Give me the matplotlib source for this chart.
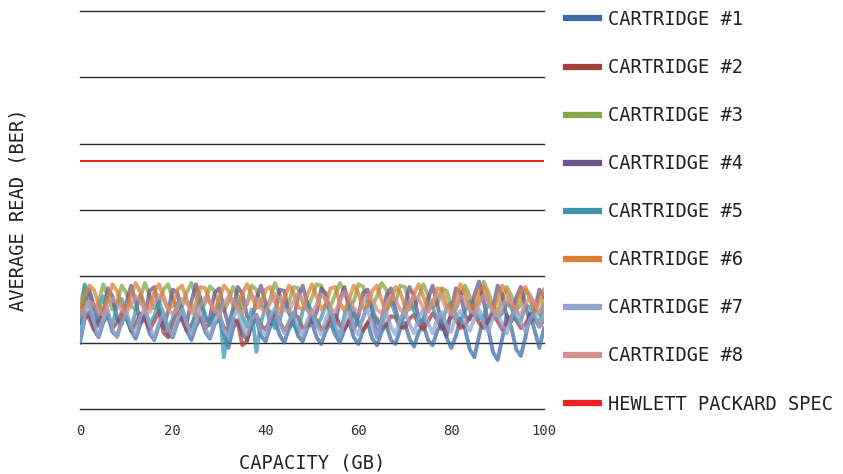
import numpy as np
import matplotlib
matplotlib.use("Agg")
import matplotlib.pyplot as plt

plt.rcParams['font.family'] = ['DejaVu Sans Mono']

# capacity in GB, one reading per GB
capacity = np.arange(0, 101)

cart1 = [1.00, 1.35, 1.46, 1.20, 1.08, 1.30, 1.42, 1.16, 1.10, 1.34,
         1.40, 1.18, 1.06, 1.28, 1.38, 1.14, 1.04, 1.26, 1.36, 1.12,
         1.08, 1.30, 1.40, 1.18, 1.04, 1.24, 1.38, 1.16, 1.06, 1.28,
         1.36, 1.12, 0.92, 1.22, 1.34, 1.14, 1.04, 1.26, 1.36, 1.10,
         1.02, 1.24, 1.34, 1.12, 1.00, 1.20, 1.32, 1.10, 1.02, 1.22,
         1.30, 1.08, 0.98, 1.18, 1.30, 1.12, 1.00, 1.20, 1.32, 1.08,
         0.98, 1.18, 1.30, 1.06, 0.96, 1.16, 1.28, 1.04, 0.98, 1.20,
         1.30, 1.06, 0.94, 1.16, 1.28, 1.04, 0.96, 1.18, 1.30, 1.08,
         0.92, 1.10, 1.36, 1.20, 0.90, 0.78, 1.10, 1.40, 1.20, 0.86,
         0.74, 1.06, 1.42, 1.22, 0.90, 0.80, 1.08, 1.44, 1.18, 0.92,
         1.22]
cart2 = [1.30, 1.45, 1.36, 1.20, 1.34, 1.50, 1.40, 1.22, 1.30, 1.46,
         1.38, 1.18, 1.28, 1.44, 1.36, 1.20, 1.32, 1.48, 1.15, 1.08,
         1.30, 1.46, 1.34, 1.18, 1.26, 1.42, 1.38, 1.22, 1.30, 1.46,
         1.40, 1.24, 1.18, 1.36, 1.30, 0.96, 1.02, 1.30, 1.42, 1.26,
         1.20, 1.34, 1.46, 1.32, 1.18, 1.28, 1.44, 1.38, 1.22, 1.26,
         1.40, 1.34, 1.20, 1.24, 1.38, 1.42, 1.26, 1.20, 1.34, 1.44,
         1.30, 1.18, 1.30, 1.42, 1.36, 1.22, 1.26, 1.40, 1.38, 1.24,
         1.22, 1.36, 1.42, 1.28, 1.20, 1.32, 1.44, 1.34, 1.20, 1.28,
         1.40, 1.36, 1.22, 1.26, 1.38, 1.44, 1.30, 1.22, 1.34, 1.42,
         1.32, 1.20, 1.30, 1.40, 1.34, 1.22, 1.28, 1.42, 1.36, 1.24,
         1.34]
cart3 = [1.55, 1.85, 1.72, 1.52, 1.60, 1.88, 1.70, 1.50, 1.62, 1.86,
         1.75, 1.55, 1.50, 1.68, 1.90, 1.72, 1.52, 1.58, 1.80, 1.88,
         1.65, 1.50, 1.55, 1.75, 1.90, 1.70, 1.52, 1.60, 1.85, 1.78,
         1.55, 1.48, 1.62, 1.84, 1.72, 1.52, 1.58, 1.86, 1.80, 1.58,
         1.50, 1.66, 1.90, 1.74, 1.54, 1.60, 1.84, 1.82, 1.60, 1.52,
         1.68, 1.88, 1.86, 1.62, 1.55, 1.72, 1.90, 1.76, 1.56, 1.62,
         1.88, 1.85, 1.64, 1.55, 1.70, 1.90, 1.80, 1.58, 1.60, 1.86,
         1.84, 1.62, 1.52, 1.70, 1.88, 1.72, 1.54, 1.58, 1.82, 1.78,
         1.56, 1.50, 1.68, 1.86, 1.70, 1.52, 1.62, 1.92, 1.76, 1.55,
         1.48, 1.66, 1.84, 1.70, 1.50, 1.56, 1.80, 1.72, 1.52, 1.42,
         1.66]
cart4 = [1.30, 1.62, 1.80, 1.55, 1.25, 1.45, 1.82, 1.70, 1.35, 1.28,
         1.60, 1.86, 1.62, 1.30, 1.40, 1.78, 1.84, 1.50, 1.22, 1.48,
         1.80, 1.76, 1.42, 1.30, 1.62, 1.88, 1.66, 1.32, 1.38, 1.75,
         1.82, 1.52, 1.26, 1.50, 1.84, 1.74, 1.40, 1.30, 1.66, 1.86,
         1.60, 1.28, 1.42, 1.80, 1.78, 1.45, 1.32, 1.70, 1.86, 1.58,
         1.30, 1.46, 1.82, 1.74, 1.40, 1.28, 1.64, 1.84, 1.55, 1.20,
         1.40, 1.75, 1.80, 1.46, 1.08, 1.35, 1.70, 1.82, 1.50, 1.25,
         1.55, 1.84, 1.70, 1.36, 1.30, 1.66, 1.86, 1.58, 1.28, 1.10,
         1.46, 1.82, 1.76, 1.40, 1.35, 1.72, 1.92, 1.62, 1.30, 1.50,
         1.86, 1.72, 1.38, 1.32, 1.68, 1.84, 1.56, 1.30, 1.48, 1.80,
         1.70]
cart5 = [1.10, 1.88, 1.60, 1.30, 1.50, 1.70, 1.40, 1.25, 1.58, 1.66,
         1.36, 1.20, 1.48, 1.72, 1.50, 1.28, 1.40, 1.62, 1.44, 1.22,
         1.36, 1.60, 1.52, 1.30, 1.18, 1.50, 1.64, 1.42, 1.26, 1.45,
         1.58, 0.78, 1.20, 1.52, 1.62, 1.40, 1.24, 1.50, 0.86, 1.30,
         1.55, 1.46, 1.22, 1.32, 1.60, 1.50, 1.28, 1.16, 1.48, 1.62,
         1.44, 1.24, 1.38, 1.58, 1.46, 1.20, 1.10, 1.42, 1.60, 1.48,
         1.26, 1.36, 1.62, 1.52, 1.30, 1.22, 1.50, 1.64, 1.42, 1.28,
         1.40, 1.60, 1.48, 1.30, 1.36, 1.58, 1.54, 1.34, 1.30, 1.52,
         1.60, 1.42, 1.34, 1.48, 1.62, 1.50, 1.36, 1.42, 1.58, 1.50,
         1.38, 1.44, 1.60, 1.52, 1.34, 1.32, 1.56, 1.54, 1.36, 1.30,
         1.54]
cart6 = [1.50, 1.70, 1.86, 1.80, 1.58, 1.48, 1.66, 1.88, 1.78, 1.55,
         1.50, 1.72, 1.90, 1.76, 1.54, 1.52, 1.76, 1.88, 1.70, 1.50,
         1.56, 1.80, 1.86, 1.64, 1.48, 1.60, 1.84, 1.82, 1.60, 1.48,
         1.66, 1.86, 1.78, 1.56, 1.52, 1.74, 1.88, 1.72, 1.52, 1.56,
         1.80, 1.84, 1.62, 1.46, 1.64, 1.86, 1.76, 1.54, 1.50, 1.72,
         1.88, 1.70, 1.50, 1.58, 1.82, 1.84, 1.60, 1.48, 1.66, 1.86,
         1.74, 1.52, 1.54, 1.78, 1.86, 1.64, 1.46, 1.62, 1.84, 1.76,
         1.56, 1.50, 1.74, 1.88, 1.70, 1.50, 1.58, 1.82, 1.80, 1.58,
         1.48, 1.68, 1.88, 1.74, 1.52, 1.56, 1.80, 1.84, 1.62, 1.50,
         1.64, 1.86, 1.76, 1.54, 1.52, 1.76, 1.84, 1.64, 1.48, 1.62,
         1.80]
cart7 = [1.05, 1.40, 1.62, 1.30, 1.10, 1.36, 1.50, 1.20, 1.08, 1.30,
         1.46, 1.24, 1.12, 1.40, 1.52, 1.26, 1.06, 1.30, 1.44, 1.20,
         1.10, 1.36, 1.50, 1.28, 1.12, 1.34, 1.46, 1.22, 1.08, 1.32,
         1.44, 1.20, 1.10, 1.38, 1.50, 1.26, 1.12, 1.36, 1.42, 1.18,
         1.12, 1.40, 1.52, 1.30, 1.14, 1.32, 1.46, 1.24, 1.10, 1.34,
         1.48, 1.26, 1.12, 1.36, 1.50, 1.28, 1.10, 1.32, 1.46, 1.22,
         1.12, 1.38, 1.50, 1.26, 1.08, 1.34, 1.46, 1.24, 1.12, 1.36,
         1.48, 1.28, 1.14, 1.38, 1.50, 1.30, 1.14, 1.36, 1.46, 1.26,
         1.16, 1.40, 1.48, 1.30, 1.18, 1.36, 1.50, 1.28, 1.16, 1.38,
         1.46, 1.26, 1.14, 1.40, 1.52, 1.30, 1.16, 1.36, 1.44, 1.24,
         1.40]
cart8 = [1.40, 1.52, 1.62, 1.58, 1.46, 1.42, 1.56, 1.66, 1.60, 1.48,
         1.44, 1.58, 1.70, 1.62, 1.48, 1.46, 1.60, 1.72, 1.64, 1.50,
         1.42, 1.54, 1.66, 1.60, 1.46, 1.40, 1.56, 1.68, 1.62, 1.48,
         1.42, 1.58, 1.70, 1.64, 1.50, 1.44, 1.60, 1.72, 1.66, 1.52,
         1.46, 1.60, 1.74, 1.66, 1.50, 1.46, 1.62, 1.74, 1.64, 1.48,
         1.44, 1.58, 1.72, 1.66, 1.52, 1.46, 1.62, 1.76, 1.68, 1.52,
         1.46, 1.60, 1.72, 1.64, 1.50, 1.44, 1.58, 1.70, 1.64, 1.50,
         1.44, 1.56, 1.70, 1.66, 1.52, 1.46, 1.60, 1.74, 1.66, 1.50,
         1.42, 1.56, 1.70, 1.64, 1.48, 1.44, 1.58, 1.72, 1.62, 1.48,
         1.40, 1.54, 1.68, 1.62, 1.46, 1.42, 1.58, 1.70, 1.60, 1.46,
         1.56]
hp_spec = 3.74

series = [cart1, cart2, cart3, cart4, cart5, cart6, cart7, cart8]
labels = ["CARTRIDGE #%d" % i for i in range(1, 9)]
colors = ["#3e6ca8", "#a43f3f", "#86a648", "#6c558c",
          "#3c97af", "#dc8037", "#91a5cd", "#d29191"]

fig = plt.figure(figsize=(8.43, 4.74), dpi=100)
ax = fig.add_axes([80 / 843, 1 - 409 / 474, 464 / 843, 398 / 474])

for vals, lab, col in zip(series, labels, colors):
    ax.plot(np.linspace(0, 100, len(vals)), vals, color=col, lw=2.8,
            alpha=0.75, label=lab, solid_joinstyle='round')
ax.axhline(hp_spec, color="#ee2222", lw=1.4, label="HEWLETT PACKARD SPEC")

ax.set_xlim(0, 100)
ax.set_ylim(0, 6)
ax.set_yticks(range(7))
ax.set_yticklabels([])
ax.set_xticks(range(0, 101, 20))
ax.tick_params(axis='both', length=0)
ax.tick_params(axis='x', labelsize=10, labelcolor='#333333', pad=11)
ax.yaxis.grid(True, color='#2a2a2a', lw=1.0)
ax.set_axisbelow(True)
for sp in ax.spines.values():
    sp.set_visible(False)
for gl in ax.yaxis.get_gridlines():
    gl.set_clip_on(False)

ax.set_xlabel("CAPACITY (GB)", fontsize=13.5, color='#222222', labelpad=11)
ax.set_ylabel("AVERAGE READ (BER)", fontsize=13.5, color='#222222', labelpad=34)

leg = fig.legend(loc='upper left', bbox_to_anchor=(566 / 843, 1 - 10 / 474),
                 frameon=False, fontsize=13.5, handlelength=1.75,
                 handletextpad=0.5, labelspacing=1.55, borderpad=0,
                 borderaxespad=0)
for h in leg.get_lines():
    h.set_linewidth(4.5)
    h.set_alpha(1)
for t in leg.get_texts():
    t.set_color('#222222')

fig.savefig("out.png", dpi=100)
